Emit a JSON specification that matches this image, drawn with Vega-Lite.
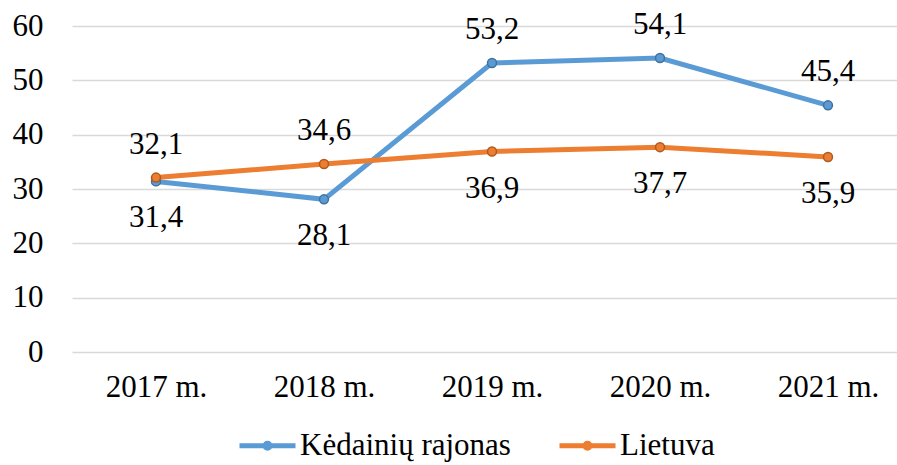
{
  "$schema": "https://vega.github.io/schema/vega-lite/v6.json",
  "width": 840,
  "height": 326,
  "autosize": {"type": "none"},
  "padding": {"left": 72, "top": 26, "right": 0, "bottom": 113},
  "background": "white",
  "config": {
    "view": {"stroke": null},
    "font": "Liberation Serif",
    "axis": {"labelFont": "Liberation Serif"},
    "text": {"font": "Liberation Serif"},
    "legend": {"labelFont": "Liberation Serif"},
    "locale": {"number": {"decimal": ",", "thousands": " ", "grouping": [3], "currency": ["", " €"]}}
  },
  "data": {
    "values": [
      {"series": "Kėdainių rajonas", "year": "2017 m.", "value": 31.4},
      {"series": "Kėdainių rajonas", "year": "2018 m.", "value": 28.1},
      {"series": "Kėdainių rajonas", "year": "2019 m.", "value": 53.2},
      {"series": "Kėdainių rajonas", "year": "2020 m.", "value": 54.1},
      {"series": "Kėdainių rajonas", "year": "2021 m.", "value": 45.4},
      {"series": "Lietuva", "year": "2017 m.", "value": 32.1},
      {"series": "Lietuva", "year": "2018 m.", "value": 34.6},
      {"series": "Lietuva", "year": "2019 m.", "value": 36.9},
      {"series": "Lietuva", "year": "2020 m.", "value": 37.7},
      {"series": "Lietuva", "year": "2021 m.", "value": 35.9}
    ]
  },
  "encoding": {
    "x": {
      "field": "year", "type": "ordinal", "sort": null,
      "scale": {"type": "point", "padding": 0.5},
      "axis": {"title": null, "labelAngle": 0, "labelFontSize": 31, "labelFont": "Liberation Serif", "labelColor": "black", "ticks": false, "domain": false, "grid": false, "labelPadding": 20}
    },
    "y": {
      "field": "value", "type": "quantitative",
      "scale": {"domain": [0, 60]},
      "axis": {"title": null, "values": [0, 10, 20, 30, 40, 50, 60], "format": "d", "grid": true, "gridColor": "#d9d9d9", "gridWidth": 1.5, "domain": false, "ticks": false, "tickSize": 0, "labelPadding": 29, "labelFontSize": 31, "labelFont": "Liberation Serif", "labelColor": "black"}
    },
    "color": {
      "field": "series", "type": "nominal", "sort": ["Kėdainių rajonas", "Lietuva"],
      "scale": {"range": ["#5B9BD5", "#ED7D31"]},
      "legend": {
        "title": null, "orient": "none", "legendX": 165, "legendY": 389, "direction": "horizontal",
        "symbolType": "M-1,0H1M-0.09,0A0.09,0.09,0,1,1,0.09,0A0.09,0.09,0,1,1,-0.09,0Z",
        "symbolSize": 3136, "symbolStrokeWidth": 5,
        "labelFontSize": 31, "labelFont": "Liberation Serif", "labelColor": "black",
        "labelOffset": 2, "columnPadding": 38, "labelLimit": 400
      }
    }
  },
  "layer": [
    {"mark": {"type": "line", "strokeWidth": 5}},
    {
      "mark": {"type": "point", "filled": true, "size": 80, "strokeWidth": 1.5, "opacity": 1},
      "encoding": {
        "stroke": {"field": "series", "type": "nominal", "sort": ["Kėdainių rajonas", "Lietuva"], "scale": {"range": ["#41719C", "#AE5A21"]}, "legend": null}
      }
    },
    {
      "transform": [{"filter": "(datum.series === 'Lietuva') === (indexof(['2017 m.', '2018 m.'], datum.year) >= 0)"}],
      "mark": {"type": "text", "baseline": "middle", "dy": -33, "fontSize": 31, "font": "Liberation Serif"},
      "encoding": {"text": {"field": "value", "type": "quantitative", "format": ".1f"}, "color": {"value": "black"}}
    },
    {
      "transform": [{"filter": "(datum.series === 'Lietuva') !== (indexof(['2017 m.', '2018 m.'], datum.year) >= 0)"}],
      "mark": {"type": "text", "baseline": "middle", "dy": 37, "fontSize": 31, "font": "Liberation Serif"},
      "encoding": {"text": {"field": "value", "type": "quantitative", "format": ".1f"}, "color": {"value": "black"}}
    }
  ]
}
